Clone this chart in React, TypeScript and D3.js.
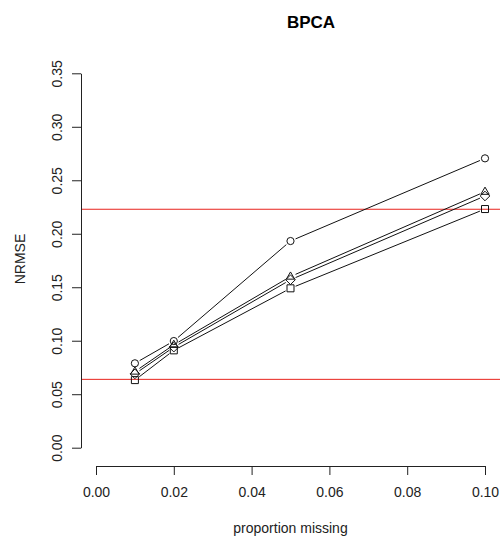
import { useEffect, useRef } from "react"
import * as d3 from "d3"

// proportion of missing values
const proportions = [0.01, 0.02, 0.05, 0.1]
// NRMSE per method (one array per plotting symbol)
const circleSeries = [0.0789, 0.0997, 0.1932, 0.2705]
const triangleSeries = [0.0712, 0.0962, 0.1600, 0.2393]
const diamondSeries = [0.0690, 0.0940, 0.1570, 0.2353]
const squareSeries = [0.0632, 0.0910, 0.1490, 0.2231]
// horizontal reference lines
const refLines = [0.2229, 0.0639]

const xTicks = [0, 0.02, 0.04, 0.06, 0.08, 0.1]
const yTicks = [0, 0.05, 0.1, 0.15, 0.2, 0.25, 0.3, 0.35]

const series = [
  { shape: "circle", values: circleSeries },
  { shape: "triangle", values: triangleSeries },
  { shape: "diamond", values: diamondSeries },
  { shape: "square", values: squareSeries },
]

const W = 500, H = 538
const axisX = 81, axisY = 466

const x = d3.scaleLinear().domain([0, 0.1]).range([96, 485])
const y = d3.scaleLinear().domain([0, 0.35]).range([447.7, 73.3])

const symbolPath = (shape: string) => {
  const p = d3.path()
  if (shape === "square") {
    p.rect(-3.5, -3.5, 7, 7)
  } else if (shape === "triangle") {
    p.moveTo(0, -4.6); p.lineTo(4.2, 2.6); p.lineTo(-4.2, 2.6); p.closePath()
  } else if (shape === "diamond") {
    p.moveTo(0, -4.8); p.lineTo(4.8, 0); p.lineTo(0, 4.8); p.lineTo(-4.8, 0); p.closePath()
  } else {
    p.arc(0, 0, 3.6, 0, Math.PI * 2)
  }
  return p.toString()
}

const App = () => {
  const ref = useRef<SVGSVGElement>(null)

  useEffect(() => {
    const svg = d3.select(ref.current)
    svg.selectAll("*").remove()
    const font = "'Liberation Sans', Arial, Helvetica, sans-serif"

    // title
    svg.append("text")
      .attr("x", 311).attr("y", 28)
      .attr("text-anchor", "middle")
      .style("font-family", font).style("font-size", "17px").style("font-weight", "bold")
      .text("BPCA")

    // reference lines
    svg.selectAll(".ref").data(refLines).enter().append("line")
      .attr("x1", axisX).attr("x2", W)
      .attr("y1", d => y(d)).attr("y2", d => y(d))
      .attr("stroke", "#e8231c").attr("stroke-width", 1)

    // y axis
    const gy = svg.append("g").attr("transform", `translate(${axisX},0)`)
      .call(d3.axisLeft(y).tickValues(yTicks).tickSize(9).tickSizeOuter(0).tickFormat(d3.format(".2f")))
    gy.select(".domain").attr("stroke", "#222")
    gy.selectAll(".tick line").attr("stroke", "#222")
    gy.selectAll(".tick text")
      .attr("x", null).attr("dy", null)
      .attr("text-anchor", "middle")
      .attr("transform", "translate(-19.5,0) rotate(-90)")
      .attr("fill", "#222")
      .style("font-family", font).style("font-size", "14px")

    // x axis
    const gx = svg.append("g").attr("transform", `translate(0,${axisY})`)
      .call(d3.axisBottom(x).tickValues(xTicks).tickSize(9).tickSizeOuter(0).tickFormat(d3.format(".2f")))
    gx.select(".domain").attr("stroke", "#222")
    gx.selectAll(".tick line").attr("stroke", "#222")
    gx.selectAll(".tick text")
      .attr("y", 31).attr("dy", null)
      .attr("fill", "#222")
      .style("font-family", font).style("font-size", "14px")

    // axis titles
    svg.append("text")
      .attr("x", 290.5).attr("y", 533)
      .attr("text-anchor", "middle").attr("fill", "#222")
      .style("font-family", font).style("font-size", "14px")
      .text("proportion missing")
    svg.append("text")
      .attr("transform", "translate(25,259) rotate(-90)")
      .attr("text-anchor", "middle").attr("fill", "#222")
      .style("font-family", font).style("font-size", "14px")
      .text("NRMSE")

    // lines with gaps around the points (type = "b")
    const gap = 5.5
    series.forEach(s => {
      const pts = s.values.map((v, i) => [x(proportions[i]), y(v)])
      const segs = d3.pairs(pts)
      svg.append("g").selectAll("line").data(segs).enter().append("line")
        .each(function ([a, b]) {
          const dx = b[0] - a[0], dy = b[1] - a[1]
          const len = Math.sqrt(dx * dx + dy * dy)
          const ux = dx / len, uy = dy / len
          d3.select(this)
            .attr("x1", a[0] + ux * gap).attr("y1", a[1] + uy * gap)
            .attr("x2", b[0] - ux * gap).attr("y2", b[1] - uy * gap)
        })
        .attr("stroke", "#111").attr("stroke-width", 1)

      svg.append("g").selectAll("path").data(pts).enter().append("path")
        .attr("d", symbolPath(s.shape))
        .attr("transform", d => `translate(${d[0]},${d[1]})`)
        .attr("fill", "none").attr("stroke", "#111").attr("stroke-width", 1)
    })
  }, [])

  return (
    <svg ref={ref} width={W} height={H}
      style={{ position: "absolute", left: 0, top: 0, background: "#fff" }} />
  )
}

export default App
